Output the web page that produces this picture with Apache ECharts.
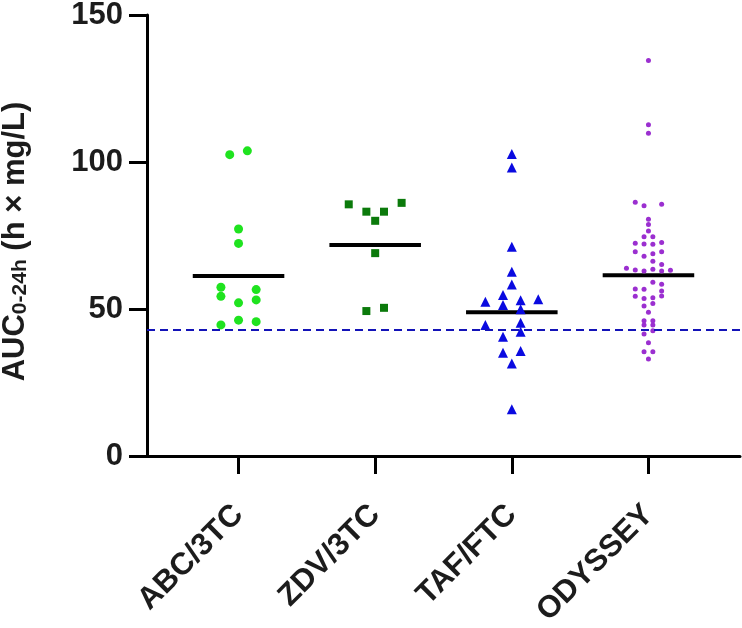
<!DOCTYPE html>
<html>
<head>
<meta charset="utf-8">
<script src="https://cdn.jsdelivr.net/npm/echarts@6/dist/echarts.min.js"></script>
<style>
html,body{margin:0;padding:0;background:#fff;}
#chart{width:742px;height:628px;}
</style>
</head>
<body>
<div id="chart"></div>
<script>
// ---- data ----
const categories = ['ABC/3TC', 'ZDV/3TC', 'TAF/FTC', 'ODYSSEY'];
const yTicks = [0, 50, 100, 150];

const abcValues = [102.5, 103.8, 77.2, 72.3, 57.4, 56.6, 54.3, 53.1, 52.1, 44.6, 46.2, 45.7];
const abcLanes  = [-1, 1, 0, 0, -2, 2, -2, 2, 0, -2, 0, 2];

const zdvValues = [85.6, 83.1, 83.1, 80.0, 86.1, 69.0, 49.3, 50.4];
const zdvLanes  = [-3, -1, 1, 0, 3, 0, -1, 1];

const tafValues = [102.7, 98.1, 71.2, 62.7, 58.3, 54.8, 52.5, 51.4, 53.0, 53.3, 49.9, 44.6, 45.3, 42.3, 40.6, 35.1, 35.7, 31.5, 15.9];
const tafLanes  = [0, 0, 0, 0, 0, -1, -3, -1, 1, 3, 1, -3, 1, 1, -1, -1, 1, 0, 0];

const odyValues = [134.5, 112.7, 109.8,
  86.3, 85.1, 85.6,
  80.5, 78.7, 76.5,
  74.6, 74.6,
  72.4, 72.1, 72.0, 72.6,
  69.5, 67.9, 68.8, 69.5,
  66.2, 65.1,
  63.9, 63.3, 62.9, 63.5, 62.9, 63.2,
  59.1, 58.4,
  56.8, 56.7, 56.1,
  54.4, 54.3, 53.6, 53.8,
  51.9, 51.0,
  48.9,
  46.0, 46.0,
  44.6, 44.6,
  42.6, 41.5,
  38.5,
  35.5, 35.5,
  33.0];
const odyLanes = [0, 0, 0,
  -3, -1, 3,
  0, 0, 0,
  -1, 1,
  -3, -1, 1, 3,
  -3, -1, 1, 3,
  1, 3,
  -5, -3, -1, 1, 3, 5,
  1, 3,
  -3, -1, 3,
  3, -3, -1, 1,
  1, -1,
  0,
  -1, 1,
  -1, 1,
  1, -1,
  0,
  -1, 1,
  0];

const centerLines = [61.2, 71.8, 48.9, 61.5];
const thresholdValue = 43.1;

// ---- styling ----
const groups = [
  {values: abcValues, lanes: abcLanes, symbol: 'circle', size: 9, color: '#1fe31f', step: 0.0645},
  {values: zdvValues, lanes: zdvLanes, symbol: 'rect', size: 8, color: '#0b7a0b', step: 0.0645},
  {values: tafValues, lanes: tafLanes, symbol: 'triangle', size: 10, color: '#0a0ae0', step: 0.0645},
  {values: odyValues, lanes: odyLanes, symbol: 'circle', size: 5, color: '#9b2fd0', step: 0.0322}
];
const txt = '#1c1c1c';
const font = 'Arial, "Liberation Sans", Helvetica, sans-serif';

const series = [];
groups.forEach((g, i) => {
  series.push({
    type: 'line',
    data: [[i - 0.335, centerLines[i]], [i + 0.335, centerLines[i]]],
    symbol: 'none',
    lineStyle: {color: '#000', width: 4},
    z: 2,
    silent: true
  });
});
groups.forEach((g, i) => {
  series.push({
    name: categories[i],
    type: 'scatter',
    data: g.values.map((v, k) => [i + g.lanes[k] * g.step, v]),
    symbol: g.symbol,
    symbolSize: g.size,
    itemStyle: {color: g.color, opacity: 1},
    z: 3,
    silent: true
  });
});
series.push({
  type: 'line',
  data: [],
  markLine: {
    silent: true,
    symbol: ['none', 'none'],
    label: {show: false},
    lineStyle: {color: '#1313b8', width: 2, type: [8, 5]},
    data: [{yAxis: thresholdValue}]
  },
  z: 1
});

const chart = echarts.init(document.getElementById('chart'));
chart.setOption({
  animation: false,
  backgroundColor: '#fff',
  grid: {left: 147, top: 15, right: 2, bottom: 172, containLabel: false, outerBoundsMode: 'none'},
  xAxis: {
    type: 'value',
    min: -0.67,
    max: 3.67,
    splitLine: {show: false},
    axisLine: {onZero: false, lineStyle: {color: '#000', width: 3}},
    axisTick: {show: true, length: 18, lineStyle: {color: '#000', width: 3}, customValues: [0, 1, 2, 3]},
    axisLabel: {
      customValues: [0, 1, 2, 3],
      formatter: v => categories[Math.round(v)],
      rotate: 45,
      margin: 54,
      fontSize: 31,
      fontWeight: 'bold',
      fontFamily: font,
      color: txt
    }
  },
  yAxis: {
    type: 'value',
    min: yTicks[0],
    max: yTicks[yTicks.length - 1],
    interval: 50,
    splitLine: {show: false},
    axisLine: {show: true, onZero: false, lineStyle: {color: '#000', width: 3}},
    axisTick: {show: true, length: 18, lineStyle: {color: '#000', width: 3}},
    axisLabel: {margin: 24, fontSize: 31, fontWeight: 'bold', fontFamily: font, color: txt},
    name: '{m|AUC}{s|0-24h}{m| (h × mg/L)}',
    nameLocation: 'middle',
    nameGap: 116,
    nameRotate: 90,
    nameTextStyle: {
      padding: [0, 12, 0, 0],
      rich: {
        m: {fontSize: 31, fontWeight: 'bold', fontFamily: font, color: txt, verticalAlign: 'bottom', lineHeight: 34},
        s: {fontSize: 21, fontWeight: 'bold', fontFamily: font, color: txt, verticalAlign: 'bottom', lineHeight: 28}
      }
    }
  },
  series: series
});
</script>
</body>
</html>
